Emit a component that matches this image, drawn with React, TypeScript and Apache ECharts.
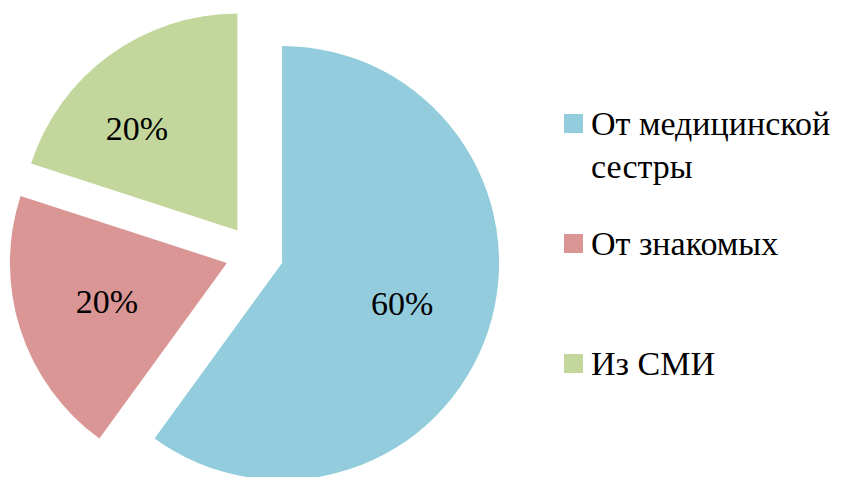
import React, { useEffect, useRef } from "react";
import * as echarts from "echarts";

const categories = ["От медицинской сестры", "От знакомых", "Из СМИ"];
const legendLabels = ["\nОт медицинской\nсестры", "От знакомых", "Из СМИ"];
const values = [60, 20, 20];
const colors = ["#93CDDD", "#D99694", "#C3D69B"];

const FONT = "Liberation Serif, Times New Roman, DejaVu Serif, serif";

export default function App() {
  const ref = useRef<HTMLDivElement>(null);
  useEffect(() => {
    if (!ref.current) return;
    const chart = echarts.init(ref.current, undefined, { renderer: "svg" });
    const labelShift = [
      [14, 6],
      [-14, 4],
      [-35, -12],
    ];
    const legendTops = [59, 222, 342];
    chart.setOption({
      animation: false,
      backgroundColor: "#ffffff",
      textStyle: { fontFamily: FONT },
      legend: categories.map((name, i) => ({
        data: [name],
        orient: "vertical",
        left: 564,
        top: legendTops[i],
        padding: 0,
        itemWidth: 19,
        itemHeight: 19,
        icon: "rect",
        selectedMode: false,
        formatter: () => legendLabels[i],
        textStyle: {
          fontFamily: FONT,
          fontSize: 34,
          lineHeight: 43,
          color: "#000000",
          padding: [0, 0, 0, 3],
        },
      })),
      series: [
        {
          type: "pie",
          center: [254.5, 254],
          radius: 217,
          startAngle: 90,
          clockwise: true,
          selectedMode: "multiple",
          selectedOffset: 29,
          silent: true,
          emphasis: { disabled: true },
          label: {
            show: true,
            position: "inside",
            fontFamily: FONT,
            fontSize: 34,
            color: "#000000",
            formatter: (p: any) => `${p.percent}%`,
          },
          labelLine: { show: false },
          labelLayout: (p: any) => ({
            dx: labelShift[p.dataIndex][0],
            dy: labelShift[p.dataIndex][1],
          }),
          data: categories.map((name, i) => ({
            name,
            value: values[i],
            selected: true,
            itemStyle: { color: colors[i] },
          })),
        },
      ],
    });
    return () => chart.dispose();
  }, []);
  return (
    <div
      ref={ref}
      style={{ position: "fixed", left: 0, top: 0, width: 859, height: 477 }}
    />
  );
}
